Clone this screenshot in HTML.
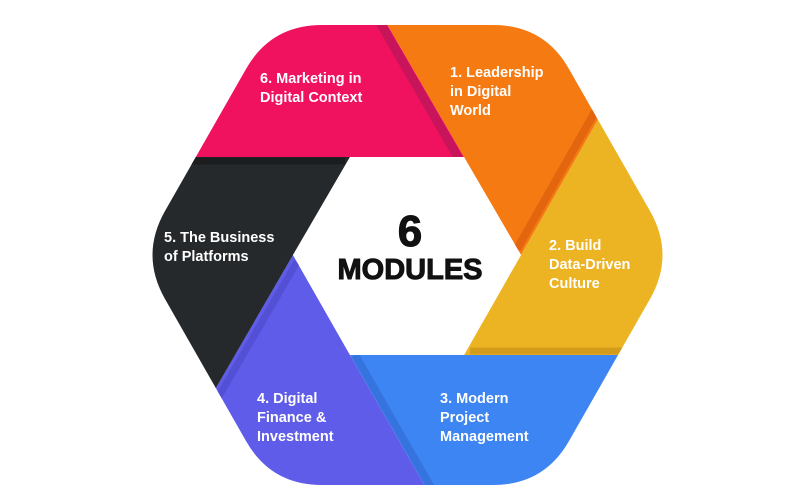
<!DOCTYPE html>
<html><head><meta charset="utf-8"><style>
html,body{margin:0;padding:0;background:#fff;}
svg{display:block;}
text{font-family:"Liberation Sans",sans-serif;font-weight:bold;}
.w{fill:#fff;font-size:14.5px;}
</style></head><body>
<svg width="811" height="500" viewBox="0 0 811 500">
<defs>
<clipPath id="hex"><path d="M322,25 L493,25 Q544,25 569,69 L650,211 Q675,255 650,299 L569,441 Q544,485 493,485 L322,485 Q271,485 246,441 L165,299 Q140,255 165,211 L246,69 Q271,25 322,25 Z"/></clipPath>
</defs>
<g clip-path="url(#hex)">
<polygon points="464,157 350,157 0,157 0,0 373,0" fill="#f0125f"/>
<line x1="459" y1="159" x2="368" y2="2" stroke="#c8145a" stroke-width="9"/>
<polygon points="464,157 373,0 666,0 521,255" fill="#f57a12"/>
<line x1="517" y1="249" x2="662" y2="-6" stroke="#e3660f" stroke-width="8"/>
<polygon points="521,255 666,0 811,0 811,355 464,355" fill="#ecb322"/>
<line x1="470" y1="351" x2="811" y2="351" stroke="#d49c1c" stroke-width="7"/>
<polygon points="464,355 811,355 811,500 433,500 350,355" fill="#3d85f2"/>
<line x1="355" y1="355" x2="438" y2="500" stroke="#3574de" stroke-width="8"/>
<polygon points="350,355 433,500 151,500 293,255" fill="#5f5ce9"/>
<line x1="297" y1="262" x2="155" y2="506" stroke="#5350d6" stroke-width="7"/>
<polygon points="293,255 151,500 0,500 0,157 350,157" fill="#26292c"/>
<line x1="0" y1="161" x2="345" y2="161" stroke="#1b1d1f" stroke-width="7"/>
<polygon points="350,157 464,157 521,255 464,355 350,355 293,255" fill="#fff"/>
</g>
<text class="w" x="260" y="83">6. Marketing in</text>
<text class="w" x="260" y="102">Digital Context</text>
<text class="w" x="450" y="77">1. Leadership</text>
<text class="w" x="450" y="96">in Digital</text>
<text class="w" x="450" y="115">World</text>
<text class="w" x="164" y="242">5. The Business</text>
<text class="w" x="164" y="261">of Platforms</text>
<text class="w" x="549" y="250">2. Build</text>
<text class="w" x="549" y="269">Data-Driven</text>
<text class="w" x="549" y="288">Culture</text>
<text class="w" x="257" y="403">4. Digital</text>
<text class="w" x="257" y="422">Finance &amp;</text>
<text class="w" x="257" y="441">Investment</text>
<text class="w" x="440" y="403">3. Modern</text>
<text class="w" x="440" y="422">Project</text>
<text class="w" x="440" y="441">Management</text>
<text x="410" y="246" text-anchor="middle" font-size="44" fill="#111" stroke="#111" stroke-width="1">6</text>
<text x="410" y="279" text-anchor="middle" font-size="29" fill="#111" stroke="#111" stroke-width="1">MODULES</text>
</svg>
</body></html>
